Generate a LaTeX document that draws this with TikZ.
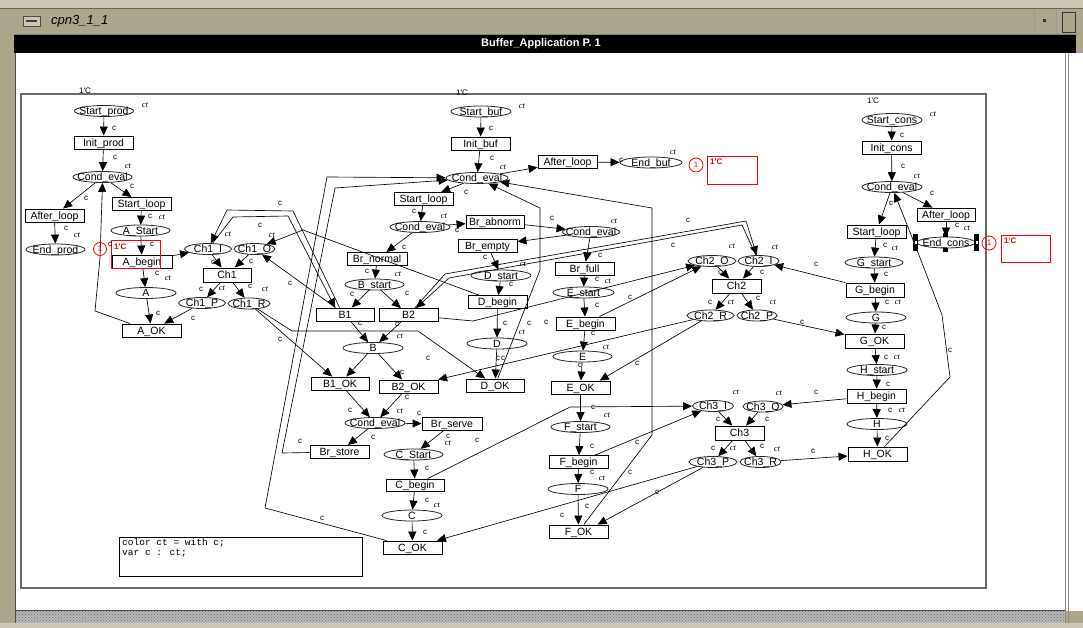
\documentclass[tikz,border=0pt]{standalone}
\usepackage{fontspec}
\setmainfont{Liberation Sans}
\newfontfamily\serifit{Liberation Serif}
\newfontfamily\monof{Liberation Mono}
\usetikzlibrary{shapes.geometric,arrows.meta,patterns}
\newcommand\nb[1]{\makebox[0pt]{#1}}
\definecolor{khaki}{RGB}{172,166,140}
\definecolor{khakilight}{RGB}{205,200,182}
\definecolor{framegrey}{RGB}{105,105,105}
\begin{document}
\begin{tikzpicture}[x=1pt,y=-1pt,
  pl/.style={ellipse, draw=black!85, line width=0.8pt, inner sep=0pt, minimum height=11pt, minimum width=59pt,
    font=\fontsize{10.5}{10.5}\selectfont, text height=7.4pt, text depth=0pt},
  tr/.style={rectangle, draw=black, line width=0.9pt, inner sep=0pt, minimum height=13pt, minimum width=59pt,
    font=\fontsize{10.5}{10.5}\selectfont, text height=7.4pt, text depth=0pt},
  arc/.style={line width=0.65pt, -{Triangle[length=9pt,width=8pt]}},
  lc/.style={font=\fontsize{8}{8}\selectfont, inner sep=0pt},
  lt/.style={font=\serifit\itshape\fontsize{8.5}{8.5}\selectfont, inner sep=0pt},
  redtxt/.style={font=\fontsize{8}{8}\selectfont, text=red, inner sep=0pt},
  redline/.style={draw=red, line width=0.8pt}]
\useasboundingbox (0,0) rectangle (1083,628);
% ---------- window chrome ----------
\fill[khaki] (0,0) rectangle (1083,628);
\fill[khakilight] (0,0) rectangle (1083,8);
\draw[black!60] (0,8.5) -- (1083,8.5);
\draw[black!50] (14,34.5) -- (1078,34.5);
\fill[black] (14,35) rectangle (1076,53);
\node[font=\bfseries\fontsize{11}{11}\selectfont, text=white, inner sep=0pt] (title) at (541,44) {Buffer\_Application P. 1};
\node[font=\itshape\fontsize{13}{13}\selectfont, anchor=west, inner sep=0pt] (win) at (51,21) {cpn3\_1\_1};
\draw[black!70, fill=khakilight] (23,16) rectangle (40,26);
\fill[black!75] (26,20) rectangle (37,22.5);
\draw[black!40] (1034,10) -- (1034,34);
\draw[black!40] (1056,10) -- (1056,34);
\fill[black!80] (1043,19) rectangle (1046,22);
\draw[black!80, line width=0.8pt] (1062,12) rectangle (1075,32);
\fill[white] (16,53) rectangle (1083,611);
\draw[black!70, line width=1pt] (15.5,53) -- (15.5,623);
\draw[black!45] (1065,53) -- (1065,623);
\draw[black!45] (1068,53) -- (1068,623);
\fill[gray!55] (16,611) rectangle (1065,623);
\fill[pattern=crosshatch dots, pattern color=gray!85!black] (16,611) rectangle (1065,623);
\draw[black!70] (16,610.5) -- (1065,610.5);
\fill[khakilight] (0,623) rectangle (1083,628);
% ---------- page ----------
\draw[framegrey, line width=1.3pt] (21,94) rectangle (986,588);
\node[lc] (pc1) at (85,91) {1\textquotesingle C};
\node[lc] (pc2) at (462,93) {1\textquotesingle C};
\node[lc] (pc3) at (873,101) {1\textquotesingle C};
% ---------- producer ----------
\node[pl] (sp) at (104,111) {\nb{Start\_prod}};
\node[tr] (ip) at (103.5,142.5) {\nb{Init\_prod}};
\node[pl] (cep) at (102.5,177) {\nb{Cond\_eval}};
\node[tr] (slp) at (141.5,204) {\nb{Start\_loop}};
\node[tr] (alp) at (54.5,215.5) {\nb{After\_loop}};
\node[pl] (as) at (140.5,230.5) {\nb{A\_Start}};
\node[pl] (ep) at (55.5,249.5) {\nb{End\_prod}};
\node[tr, minimum width=60pt] (ab) at (142,261.5) {\nb{A\_begin}};
\node[pl, minimum width=60pt] (a) at (146,293) {\nb{A}};
\node[tr] (aok) at (151.5,330.5) {\nb{A\_OK}};
\node[pl, minimum width=47pt] (c1i) at (208,249) {\nb{Ch1\_I}};
\node[pl, minimum width=41pt] (c1o) at (254.5,249) {\nb{Ch1\_O}};
\node[tr, minimum width=48pt, minimum height=14pt] (ch1) at (227,275) {\nb{Ch1}};
\node[pl, minimum width=47pt] (c1p) at (202,303) {\nb{Ch1\_P}};
\node[pl, minimum width=42pt] (c1r) at (249,303.5) {\nb{Ch1\_R}};
% ---------- buffer ----------
\node[pl, minimum width=60pt] (sb) at (481,111.5) {\nb{Start\_buf}};
\node[tr] (ib) at (480.5,143.5) {\nb{Init\_buf}};
\node[pl, minimum width=62pt] (ceb) at (477,178) {\nb{Cond\_eval}};
\node[tr] (alb) at (567.5,162) {\nb{After\_loop}};
\node[pl, minimum width=62pt] (eb) at (651,162.5) {\nb{End\_buf}};
\node[tr] (slb) at (423.5,199) {\nb{Start\_loop}};
\node[pl, minimum width=60pt] (ce2) at (420,227) {\nb{Cond\_eval}};
\node[tr, minimum width=58pt] (bra) at (495,221.5) {\nb{Br\_abnorm}};
\node[pl, minimum width=57pt] (ce3) at (591,232) {\nb{Cond\_eval}};
\node[tr] (bre) at (487.5,245.5) {\nb{Br\_empty}};
\node[tr, minimum width=60pt] (brn) at (377,259) {\nb{Br\_normal}};
\node[pl] (bs) at (374.5,284.5) {\nb{B\_start}};
\node[tr, minimum width=58pt] (b1) at (345,314.5) {\nb{B1}};
\node[tr] (b2) at (408.5,315) {\nb{B2}};
\node[pl, minimum width=60pt] (b) at (373,348) {\nb{B}};
\node[tr, minimum width=58pt] (b1ok) at (340,383.5) {\nb{B1\_OK}};
\node[tr] (b2ok) at (408.5,386.5) {\nb{B2\_OK}};
\node[pl, minimum width=60pt] (ds) at (501,275.5) {\nb{D\_start}};
\node[tr] (db) at (497.5,302) {\nb{D\_begin}};
\node[pl, minimum width=60pt] (d) at (497,343.5) {\nb{D}};
\node[tr, minimum width=58pt] (dok) at (495,385.5) {\nb{D\_OK}};
\node[tr] (brf) at (584.5,268.5) {\nb{Br\_full}};
\node[pl, minimum width=61pt] (es) at (583.5,292.5) {\nb{E\_start}};
\node[tr] (eg) at (585.5,323.5) {\nb{E\_begin}};
\node[pl] (e) at (582.5,356.5) {\nb{E}};
\node[tr] (eok) at (580.5,387.5) {\nb{E\_OK}};
\node[pl] (fs) at (580.5,427) {\nb{F\_start}};
\node[tr] (fb) at (578.5,462) {\nb{F\_begin}};
\node[pl, minimum width=60pt] (f) at (578,489) {\nb{F}};
\node[tr] (fok) at (578.5,531.5) {\nb{F\_OK}};
\node[pl, minimum width=60pt] (ce4) at (375,423) {\nb{Cond\_eval}};
\node[tr, minimum width=60pt] (brs) at (452,424) {\nb{Br\_serve}};
\node[tr] (brst) at (339.5,452) {\nb{Br\_store}};
\node[pl] (cs) at (413.5,454.5) {\nb{C\_Start}};
\node[tr, minimum width=58pt, minimum height=12pt] (cb) at (415,485) {\nb{C\_begin}};
\node[pl, minimum width=60pt] (c) at (412,515.5) {\nb{C}};
\node[tr] (cok) at (412.5,547.5) {\nb{C\_OK}};
% ---------- consumer ----------
\node[pl, minimum width=60pt, minimum height=13pt] (scn) at (892,120) {\nb{Start\_cons}};
\node[tr] (icn) at (891.5,147.5) {\nb{Init\_cons}};
\node[pl, minimum width=60pt] (cec) at (892,187) {\nb{Cond\_eval}};
\node[tr, minimum width=58pt] (alc) at (946,214.5) {\nb{After\_loop}};
\node[tr] (slc) at (876.5,231.5) {\nb{Start\_loop}};
\node[pl, minimum width=58pt] (ec) at (946,242.5) {\nb{End\_cons}};
\node[pl, minimum width=58pt] (gs) at (874,262.5) {\nb{G\_start}};
\node[tr, minimum width=58pt, minimum height=14pt] (gb) at (875,290) {\nb{G\_begin}};
\node[pl, minimum width=60pt] (g) at (876,317.5) {\nb{G}};
\node[tr, minimum height=14pt] (gok) at (874.5,341) {\nb{G\_OK}};
\node[pl, minimum width=60pt] (hs) at (877,370) {\nb{H\_start}};
\node[tr, minimum height=14pt] (hb) at (876.5,396) {\nb{H\_begin}};
\node[pl, minimum width=60pt] (h) at (877,424) {\nb{H}};
\node[tr, minimum height=14pt] (hok) at (877.5,454) {\nb{H\_OK}};
\node[pl, minimum width=48pt] (c2o) at (712,261) {\nb{Ch2\_O}};
\node[pl, minimum width=41pt] (c2i) at (758.5,261) {\nb{Ch2\_I}};
\node[tr, minimum width=49pt, minimum height=14pt] (ch2) at (736.5,286) {\nb{Ch2}};
\node[pl, minimum width=47pt] (c2r) at (710.5,315.5) {\nb{Ch2\_R}};
\node[pl, minimum width=40pt] (c2p) at (757,315.5) {\nb{Ch2\_P}};
\node[pl, minimum width=41pt] (c3i) at (713,406) {\nb{Ch3\_I}};
\node[pl, minimum width=40pt] (c3o) at (763,406.5) {\nb{Ch3\_O}};
\node[tr, minimum width=49pt, minimum height=14pt] (ch3) at (739.5,433) {\nb{Ch3}};
\node[pl, minimum width=48pt] (c3p) at (713,462) {\nb{Ch3\_P}};
\node[pl, minimum width=41pt] (c3r) at (760.5,462) {\nb{Ch3\_R}};
% ---------- producer arcs ----------
\draw[arc] (sp) -- (ip);
\draw[arc] (ip) -- (cep);
\draw[arc] (cep) -- (slp);
\draw[arc] (cep) -- (alp);
\draw[arc] (slp) -- (as);
\draw[arc] (alp) -- (ep);
\draw[arc] (as) -- (ab);
\draw[arc] (ab) -- (a);
\draw[arc] (a) -- (aok);
\draw[arc] (c1p) -- (aok);
\draw[arc] (aok.162) -- (95,311) -- (100,258) -- (cep.south);
\draw[arc] (ab) -- (c1i);
\draw[arc] (c1i) -- (ch1);
\draw[arc] (c1o) -- (ch1);
\draw[arc] (ch1) -- (c1p);
\draw[arc] (ch1) -- (c1r);
\draw[arc] (b1.128) -- (293,211) -- (227,210) -- (c1i);
\draw[arc] (c1i) -- (233,217) -- (288,216) -- (b1.145);
\draw[arc] (b1) -- (c1o);
\draw[arc] (db) -- (303,230) -- (c1o);
\draw[arc] (c1r) -- (b1ok);
\draw[arc] (c1r) -- (292,331) -- (418,331) -- (dok);
% ---------- buffer arcs ----------
\draw[arc] (sb) -- (ib);
\draw[arc] (ib) -- (ceb);
\draw[arc] (ceb) -- (alb);
\draw[arc] (alb) -- (eb);
\draw[arc] (ceb) -- (slb);
\draw[arc] (slb) -- (ce2);
\draw[arc] (ce2) -- (bra);
\draw[arc] (ce2) -- (brn);
\draw[arc] (bra) -- (ce3);
\draw[arc] (ce3) -- (bre);
\draw[arc] (ce3) -- (brf);
\draw[arc] (bre) -- (ds);
\draw[arc] (ds) -- (db);
\draw[arc] (db) -- (d);
\draw[arc] (d) -- (dok);
\draw[arc] (brn) -- (bs);
\draw[arc] (bs) -- (b1);
\draw[arc] (bs) -- (b2);
\draw[arc] (b1) -- (b);
\draw[arc] (b2) -- (b);
\draw[arc] (b) -- (b1ok);
\draw[arc] (b) -- (b2ok);
\draw[arc] (b1ok) -- (ce4);
\draw[arc] (b2ok) -- (ce4);
\draw[arc] (ce4) -- (brs);
\draw[arc] (ce4) -- (brst);
\draw[arc] (brs) -- (cs);
\draw[arc] (cs) -- (cb);
\draw[arc] (cb) -- (c);
\draw[arc] (c) -- (cok);
\draw[arc] (brf) -- (es);
\draw[arc] (es) -- (eg);
\draw[arc] (eg) -- (e);
\draw[arc] (e) -- (eok);
\draw[arc] (eok) -- (fs);
\draw[arc] (fs) -- (fb);
\draw[arc] (fb) -- (f);
\draw[arc] (f) -- (fok);
\draw[arc] (brst) -- (282,453) -- (335,188) -- (ceb);
\draw[arc] (cok) -- (265,508) -- (327,177) -- (ceb);
\draw[arc] (dok) -- (540,270) -- (540,208) -- (ceb);
\draw[arc] (fok) -- (652,435) -- (652,208) -- (ceb);
\draw[arc] (b2) -- (445,274) -- (746,221) -- (c2i);
\draw[arc] (c2i) -- (742,225) -- (449,278) -- (b2);
\draw[arc] (b2) -- (473,321) -- (c2o);
\draw[arc] (eg) -- (c2o);
\draw[arc] (c2r) -- (b2ok);
\draw[arc] (c2r) -- (eok.20);
\draw[arc] (c3p) -- (cok);
\draw[arc] (c3p) -- (fok.20);
\draw[arc] (cb) -- (570,407) -- (c3i);
\draw[arc] (fb) -- (c3i);
% ---------- consumer arcs ----------
\draw[arc] (scn) -- (icn);
\draw[arc] (icn) -- (cec);
\draw[arc] (cec) -- (alc);
\draw[arc] (cec) -- (slc);
\draw[arc] (alc) -- (ec);
\draw[arc] (slc) -- (gs);
\draw[arc] (gs) -- (gb);
\draw[arc] (gb) -- (g);
\draw[arc] (g) -- (gok);
\draw[arc] (gok) -- (hs);
\draw[arc] (hs) -- (hb);
\draw[arc] (hb) -- (h);
\draw[arc] (h) -- (hok);
\draw[arc] (hok) -- (950,377) -- (942,315) -- (917,250) -- (cec);
\draw[arc] (gb) -- (c2i);
\draw[arc] (c2o) -- (ch2);
\draw[arc] (c2i) -- (ch2);
\draw[arc] (ch2) -- (c2r);
\draw[arc] (ch2) -- (c2p);
\draw[arc] (c2p) -- (gok);
\draw[arc] (hb) -- (c3o);
\draw[arc] (c3i) -- (ch3);
\draw[arc] (c3o) -- (ch3);
\draw[arc] (ch3) -- (c3p);
\draw[arc] (ch3) -- (c3r);
\draw[arc] (c3r) -- (hok);
% ---------- End_cons selection handles ----------
\fill[black] (913,234) rectangle (918,251);
\fill[black] (974,234) rectangle (979,251);
\fill[black] (943,233) rectangle (948,237);
\fill[black] (943,248) rectangle (948,252);
\fill[white] (914.5,241) rectangle (916.5,244);
\fill[white] (975.5,241) rectangle (977.5,244);
% ---------- initial markings ----------
\draw[redline] (100,249) circle[radius=6.5pt];
\node[redtxt] (m1) at (100,249) {1};
\draw[redline] (111,240) rectangle (160,268);
\node[redtxt, anchor=west] (mk1) at (114,247) {\bfseries 1\textquotesingle C};
\draw[redline] (696,165) circle[radius=7pt];
\node[redtxt] (m2) at (696,165) {1};
\draw[redline] (707,156) rectangle (757,184);
\node[redtxt, anchor=west] (mk2) at (710,162) {\bfseries 1\textquotesingle C};
\draw[redline] (989,243) circle[radius=7pt];
\node[redtxt] (m3) at (989,243) {1};
\draw[redline] (1001,235) rectangle (1050,262);
\node[redtxt, anchor=west] (mk3) at (1004,241) {\bfseries 1\textquotesingle C};
% ---------- declarations ----------
\draw[black, line width=0.8pt] (119,537) rectangle (362,576);
\node[anchor=north west, font=\monof\fontsize{9.5}{10}\selectfont, align=left, inner sep=0pt] (decl) at (122,538) {color ct = with c;\\var c : ct;};
% ---------- arc labels ----------
\foreach \px/\py [count=\i] in {114/128, 115/157, 132/186, 86/198, 150/216, 66/228, 152/244, 110/244, 157/273,
  158/313, 193/318, 213/262, 251/261, 201/289, 250/286, 290/283, 280/339, 280/203, 260/225,
  491/128, 492/158, 466/192, 414/211, 457/230, 404/247, 552/218, 600/255, 485/257, 511/284, 367/271,
  352/294, 407/293, 360/323, 397/324, 402/372, 428/358, 505/323, 529/323, 546/322, 498/358, 503/358,
  597/279, 597/305, 593/333, 580/365, 593/407, 592/446, 592/472, 630/472, 637/442, 657/492, 587/506,
  562/515, 477/440, 350/410, 407/397, 419/413, 373/437, 448/436, 427/468, 427/500, 425/532, 300/441,
  322/518, 621/160, 630/297, 673/245, 688/220, 637/363,
  902/135, 903/166, 932/193, 891/203, 957/225, 885/245, 886/274, 887/302, 884/327, 886/357, 888/384,
  890/410, 887/438, 950/350, 816/264, 802/322, 816/392, 813/451, 720/272, 762/272, 710/302, 758/298,
  718/419, 767/419, 713/448, 762/446}
  \node[lc] (lbc\i) at (\px,\py) {c};
\foreach \px/\py [count=\i] in {145/105, 128/166, 162/217, 77/235, 168/278, 228/234, 272/235, 222/288, 265/289,
  522/106, 503/167, 444/216, 614/221, 523/264, 398/274, 400/336, 522/332, 608/281, 606/347, 607/415,
  602/478, 400/411, 448/443, 437/505, 673/152,
  933/114, 917/176, 967/228, 895/248, 898/302, 897/357, 902/410, 732/246, 775/247, 731/302, 773/302,
  736/392, 779/393, 733/448, 777/449}
  \node[lt] (lbt\i) at (\px,\py) {ct};
\end{tikzpicture}
\end{document}
